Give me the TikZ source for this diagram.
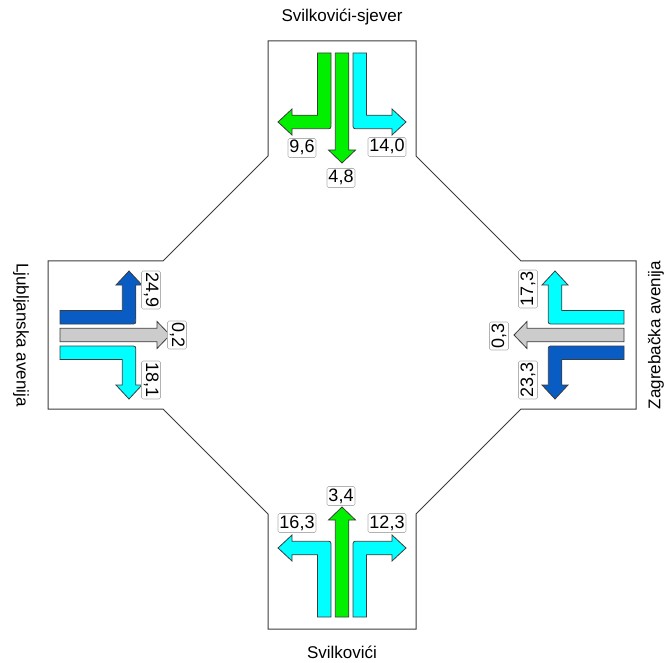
\documentclass[tikz,border=0pt]{standalone}
\usepackage{fontspec}
\setmainfont{Liberation Sans}
\definecolor{arrowgreen}{RGB}{0,240,0}
\definecolor{arrowcyan}{RGB}{0,255,255}
\definecolor{arrowblue}{RGB}{8,92,196}
\definecolor{arrowgray}{RGB}{204,204,204}
\definecolor{edgegray}{RGB}{60,60,60}
\newcommand\laneset[4]{%
\begin{scope}[shift={(342,327)},rotate=#1]
% right-turn lane
\path[arrowshape,fill=#2] (-24.5,282) -- (-24.5,219.75) -- (-50,219.75) -- (-50,226) -- (-64,213) -- (-50,200) -- (-50,206.25) -- (-16,206.25) .. controls (-11,206.25) .. (-11,211.25) -- (-11,282) -- cycle;
% straight lane
\path[arrowshape,fill=#3] (-6.75,282) -- (-6.75,185) -- (-13.5,185) -- (0,172) -- (13.5,185) -- (6.75,185) -- (6.75,282) -- cycle;
% left-turn lane
\path[arrowshape,fill=#4] (24.5,282) -- (24.5,219.75) -- (50,219.75) -- (50,226) -- (64,213) -- (50,200) -- (50,206.25) -- (16,206.25) .. controls (11,206.25) .. (11,211.25) -- (11,282) -- cycle;
\end{scope}}
\begin{document}
\begin{tikzpicture}[x=1pt,y=1pt,
  arrowshape/.style={draw=edgegray,line width=0.8pt,line join=miter},
  outline/.style={draw=edgegray,line width=1pt},
  lbl/.style={draw=black!30,fill=white,rounded corners=1.5pt,line width=0.6pt,inner sep=1.5pt,text height=13pt,text depth=3pt,font=\fontsize{18}{18}\selectfont},
  ttl/.style={inner sep=0pt,font=\fontsize{17}{17}\selectfont}]
\useasboundingbox (0,0) rectangle (668,662);
\begin{scope}[shift={(342,327)}]
\draw[outline] (-74,294) -- (74,294) -- (74,179) -- (179,74) -- (294,74) -- (294,-74) -- (179,-74) -- (74,-179) -- (74,-294) -- (-74,-294) -- (-74,-179) -- (-179,-74) -- (-294,-74) -- (-294,74) -- (-179,74) -- (-74,179) -- cycle;
\end{scope}
\laneset{0}{arrowgreen}{arrowgreen}{arrowcyan}
\laneset{90}{arrowcyan}{arrowgray}{arrowblue}
\laneset{180}{arrowcyan}{arrowgreen}{arrowcyan}
\laneset{270}{arrowcyan}{arrowgray}{arrowblue}
% labels
\node[lbl] (n96) at (302,514) {9,6};
\node[lbl] (n140) at (387,515) {14,0};
\node[lbl] (n48) at (341,484) {4,8};
\node[lbl,rotate=-90] (n249) at (151,372) {24,9};
\node[lbl,rotate=-90] (n02) at (177,327) {0,2};
\node[lbl,rotate=-90] (n181) at (151,282) {18,1};
\node[lbl,rotate=90] (n173) at (528,373) {17,3};
\node[lbl,rotate=90] (n03) at (499,326) {0,3};
\node[lbl,rotate=90] (n233) at (528,282) {23,3};
\node[lbl] (n163) at (297,139) {16,3};
\node[lbl] (n123) at (387,139) {12,3};
\node[lbl] (n34) at (341,166) {3,4};
% titles
\node[ttl] (tnorth) at (342,645) {Svilkovići-sjever};
\node[ttl] (tsouth) at (342,10) {Svilkovići};
\node[ttl,rotate=-90] (twest) at (21,327) {Ljubljanska avenija};
\node[ttl,rotate=90] (teast) at (656,327) {Zagrebačka avenija};
\end{tikzpicture}
\end{document}
